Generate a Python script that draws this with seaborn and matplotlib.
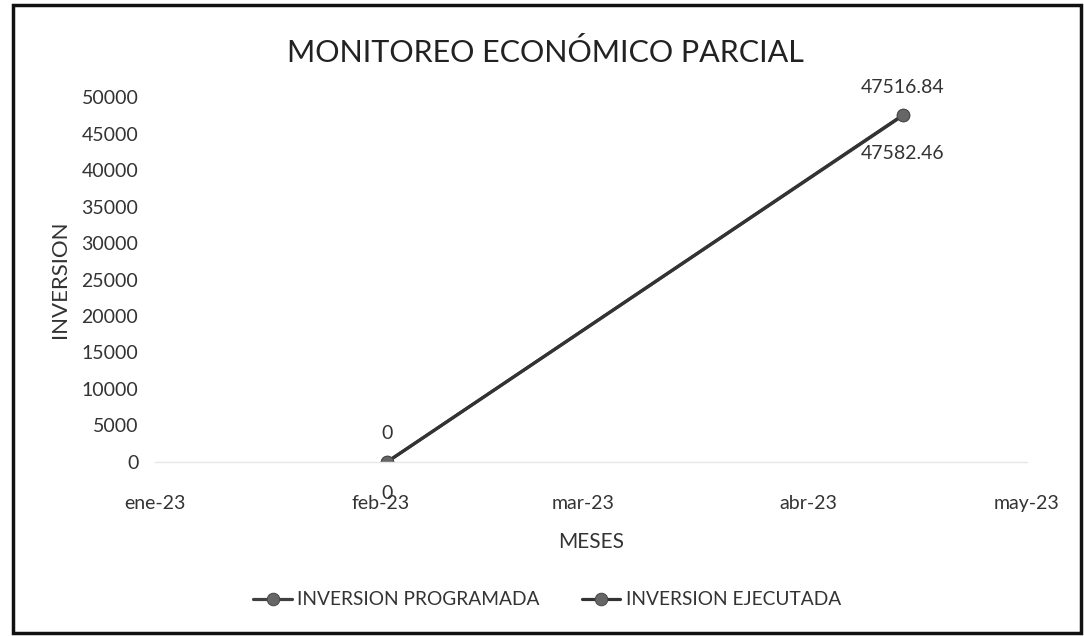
import pandas as pd
import matplotlib
matplotlib.use("Agg")
import matplotlib.pyplot as plt
from matplotlib.patches import Rectangle
import seaborn as sns

# datos
fechas = ["2023-02-02", "2023-04-14"]
inv_programada = [0, 47516.84]
inv_ejecutada = [0, 47582.46]
meses = ["2023-01-01", "2023-02-01", "2023-03-01", "2023-04-01", "2023-05-01"]
etiquetas_meses = ["ene-23", "feb-23", "mar-23", "abr-23", "may-23"]
ticks_y = [0, 5000, 10000, 15000, 20000, 25000, 30000, 35000, 40000, 45000, 50000]

sns.set_style("white")
plt.rcParams["font.family"] = ["Lato", "DejaVu Sans"]

df = pd.DataFrame({
    "fecha": pd.to_datetime(fechas * 2),
    "valor": inv_programada + inv_ejecutada,
    "serie": ["INVERSION PROGRAMADA"] * 2 + ["INVERSION EJECUTADA"] * 2,
})

fig = plt.figure(figsize=(10.84, 6.36), dpi=100)
ax = fig.add_axes([0.143, 0.274, 0.804, 0.573])

sns.lineplot(data=df, x="fecha", y="valor", hue="serie",
             palette={"INVERSION PROGRAMADA": "#404040", "INVERSION EJECUTADA": "#333333"},
             marker="o", markersize=9, linewidth=2.3, markeredgecolor="#4a4a4a",
             markerfacecolor="#666666", ax=ax, legend=True)

x_meses = pd.to_datetime(meses)
ax.set_xlim(x_meses[0], x_meses[-1])
ax.set_ylim(0, 50000)
ax.set_xticks(x_meses)
ax.set_xticklabels(etiquetas_meses)
ax.set_yticks(ticks_y)
ax.set_yticklabels([str(t) for t in ticks_y])
ax.tick_params(axis="both", labelsize=14, colors="#333333", length=0)
ax.tick_params(axis="x", pad=24)
ax.tick_params(axis="y", pad=12)

for s in ["top", "right", "left"]:
    ax.spines[s].set_visible(False)
ax.spines["bottom"].set_color("#e6e6e6")
ax.spines["bottom"].set_linewidth(1)

# etiquetas de datos (programada arriba, ejecutada abajo)
fx = pd.to_datetime(fechas)
desplaz_abajo = [-17, -22]
for x, v in zip(fx, inv_programada):
    ax.annotate(f"{v:g}" if v == 0 else f"{v:.2f}", (x, v), xytext=(0, 14),
                textcoords="offset points", ha="center", va="bottom",
                fontsize=14, color="#333333")
for x, v, d in zip(fx, inv_ejecutada, desplaz_abajo):
    ax.annotate(f"{v:g}" if v == 0 else f"{v:.2f}", (x, v), xytext=(0, d),
                textcoords="offset points", ha="center", va="top",
                fontsize=14, color="#333333")

ax.set_xlabel("MESES", fontsize=15, color="#333333", labelpad=14)
ax.set_ylabel("INVERSION", fontsize=16, color="#333333", labelpad=8)
fig.text(0.503, 0.918, "MONITOREO ECONÓMICO PARCIAL", ha="center", va="center",
         fontsize=22, color="#222222")

handles, labels = ax.get_legend_handles_labels()
ax.legend(handles, labels, loc="center", bbox_to_anchor=(0.505, 0.057),
          bbox_transform=fig.transFigure, ncol=2, frameon=False,
          fontsize=13.8, handlelength=2.0, handletextpad=0.3, columnspacing=2.2,
          labelcolor="#333333")

fig.patches.append(Rectangle((0.012, 0.004), 0.985, 0.988, transform=fig.transFigure,
                             fill=False, edgecolor="#111111", linewidth=2.5))

fig.savefig("out.png", dpi=100)
